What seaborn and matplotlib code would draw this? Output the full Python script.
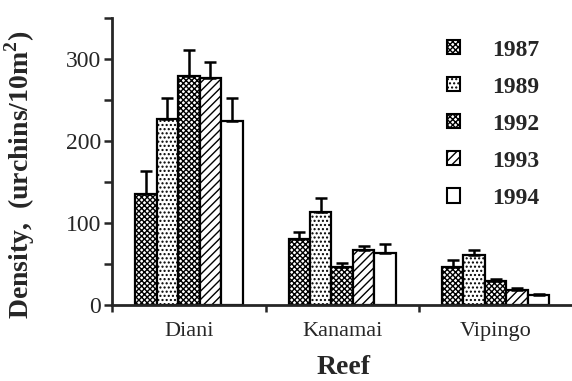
import matplotlib
matplotlib.use('Agg')
import matplotlib.pyplot as plt
from matplotlib.patches import Patch
import pandas as pd
import seaborn as sns

# data
reefs = ['Diani', 'Kanamai', 'Vipingo']
years = ['1987', '1989', '1992', '1993', '1994']
mean_1987 = [136, 81, 46]
mean_1989 = [227, 113, 61]
mean_1992 = [279, 46, 29]
mean_1993 = [277, 67, 18]
mean_1994 = [225, 63, 12]
se_1987 = [28, 8, 9]
se_1989 = [26, 18, 6]
se_1992 = [32, 6, 3]
se_1993 = [19, 5, 3]
se_1994 = [28, 12, 2]

means = [mean_1987, mean_1989, mean_1992, mean_1993, mean_1994]
errs = [se_1987, se_1989, se_1992, se_1993, se_1994]
hatches = ['xxxxxx', '....', 'xxxxxx', '////', '']

rows = []
for yr, m in zip(years, means):
    for reef, v in zip(reefs, m):
        rows.append({'reef': reef, 'year': yr, 'density': v})
df = pd.DataFrame(rows)

sns.set_style('ticks')
plt.rcParams['font.family'] = ['Liberation Serif', 'DejaVu Serif']
plt.rcParams['mathtext.fontset'] = 'custom'
plt.rcParams['mathtext.rm'] = 'Liberation Serif'
plt.rcParams['mathtext.bf'] = 'Liberation Serif:bold'
plt.rcParams['hatch.linewidth'] = 1.0
plt.rcParams['hatch.color'] = 'black'

fig = plt.figure(figsize=(5.72, 3.81), dpi=100)
ax = fig.add_axes([0.196, 0.199, 0.81, 0.754])

sns.barplot(data=df, x='reef', y='density', hue='year', order=reefs,
            hue_order=years, width=0.7, errorbar=None, ax=ax, legend=False)

for cont, h, err in zip(ax.containers, hatches, errs):
    for bar, e in zip(cont, err):
        bar.set_facecolor('white')
        bar.set_edgecolor('black')
        bar.set_linewidth(1.6)
        bar.set_hatch(h)
        x = bar.get_x() + bar.get_width() / 2
        y = bar.get_height()
        ax.errorbar([x], [y], yerr=[[0], [e]], fmt='none', ecolor='black',
                    elinewidth=1.8, capsize=4, capthick=1.8, zorder=1)

ax.set_ylim(0, 350)
ax.set_xlim(-0.5, 2.52)
ax.set_yticks(range(0, 351, 50))
ax.set_yticklabels(['0', '', '100', '', '200', '', '300', ''])
ax.set_xticks([-0.5, 0.5, 1.5])
ax.set_xticklabels([])
ax.set_xticks([0, 1, 2], minor=True)
ax.set_xticklabels(reefs, minor=True)
ax.tick_params(axis='x', which='minor', length=0, pad=12, labelsize=16)
ax.tick_params(axis='x', which='major', length=5, width=1.8)
ax.tick_params(axis='y', length=6, width=1.8, labelsize=17, pad=2)

for s in ['top', 'right']:
    ax.spines[s].set_visible(False)
for s in ['left', 'bottom']:
    ax.spines[s].set_linewidth(2)

ax.set_xlabel('Reef', fontsize=20, fontweight='bold')
ax.xaxis.set_label_coords(0.499, -0.172)
ax.set_ylabel(r'Density,  (urchins/10m$^{\mathbf{2}}$)', fontsize=20,
              fontweight='bold')
ax.yaxis.set_label_coords(-0.199, 0.455)
ax.yaxis.label.set_va('center')

handles = [Patch(facecolor='white', edgecolor='black', hatch=h, linewidth=1.5)
           for h in hatches]
ax.legend(handles, years, loc='upper left', bbox_to_anchor=(0.745, 0.952),
          bbox_transform=fig.transFigure, frameon=False,
          prop={'weight': 'bold', 'size': 17}, handlelength=0.55,
          handleheight=0.55, handletextpad=1.35, labelspacing=0.68)

fig.savefig('out.png', dpi=100)
